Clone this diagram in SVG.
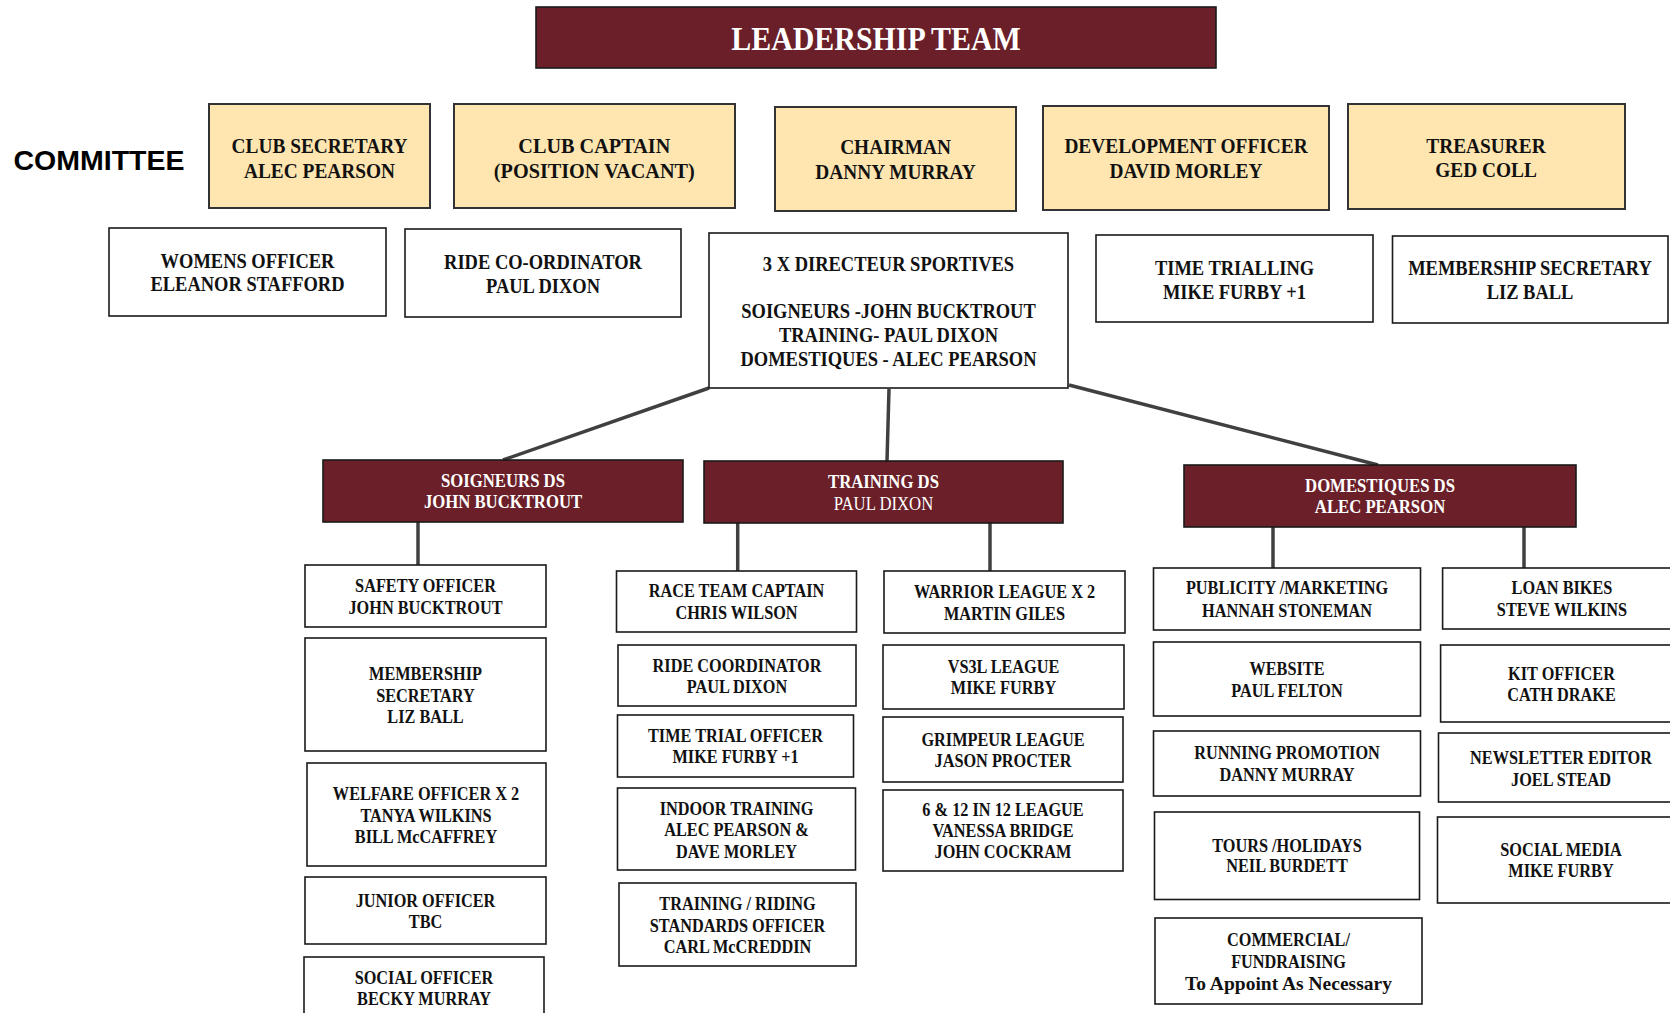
<svg xmlns="http://www.w3.org/2000/svg" width="1670" height="1013" viewBox="0 0 1670 1013">
<style>
.bg{fill:#fff}
.box{fill:#fff;stroke:#1a1a1a;stroke-width:1.6}
.com{fill:#FFE6B0;stroke:#333;stroke-width:2}
.ds{fill:#6A1F29;stroke:#1a1a1a;stroke-width:1.6}
.t{font-family:"Liberation Serif",serif;font-weight:bold;font-size:18.5px;text-anchor:middle;fill:#111}
.t2{font-size:21px}
.tc{font-size:22px}
.td{font-size:19px;fill:#fff}
.tt{font-size:34px;fill:#fff}
.n{font-weight:normal}
.conn{stroke:#404040;stroke-width:3.5;fill:none}
</style>
<rect class="bg" x="0" y="0" width="1670" height="1013"/>
<g id="connectors">
<line class="conn" x1="709" y1="388" x2="503" y2="460"/>
<line class="conn" x1="889" y1="389" x2="887" y2="461"/>
<line class="conn" x1="1069" y1="385" x2="1378" y2="465"/>
<line class="conn" x1="418" y1="522" x2="418" y2="565"/>
<line class="conn" x1="737.7" y1="523" x2="737.7" y2="571"/>
<line class="conn" x1="990" y1="523" x2="990" y2="571"/>
<line class="conn" x1="1273" y1="527" x2="1273" y2="568"/>
<line class="conn" x1="1524" y1="527" x2="1524" y2="568"/>
</g>
<g id="leadership">
<rect class="ds" x="536" y="7" width="680" height="61"/>
<text class="t tt" transform="translate(876 0) scale(0.88 1)"><tspan x="0" y="50">LEADERSHIP TEAM</tspan></text>
</g>
<g id="committee-label">
<text x="99" y="170" style="font-family:'Liberation Sans',sans-serif;font-weight:bold;font-size:28.5px;text-anchor:middle;fill:#000">COMMITTEE</text>
</g>
<g id="club-secretary">
<rect class="com" x="209" y="104" width="221" height="104"/>
<text class="t tc" transform="translate(319.5 0) scale(0.88 1)"><tspan x="0" y="152.7">CLUB SECRETARY</tspan><tspan x="0" y="177.7">ALEC PEARSON</tspan></text>
</g>
<g id="club-captain">
<rect class="com" x="454" y="104" width="281" height="104"/>
<text class="t tc" transform="translate(594.3 0) scale(0.92 1)"><tspan x="0" y="152.7">CLUB CAPTAIN</tspan><tspan x="0" y="177.7">(POSITION VACANT)</tspan></text>
</g>
<g id="chairman">
<rect class="com" x="775" y="107" width="241" height="104"/>
<text class="t tc" transform="translate(895.5 0) scale(0.88 1)"><tspan x="0" y="154">CHAIRMAN</tspan><tspan x="0" y="179">DANNY MURRAY</tspan></text>
</g>
<g id="development-officer">
<rect class="com" x="1043" y="106" width="286" height="104"/>
<text class="t tc" transform="translate(1186 0) scale(0.88 1)"><tspan x="0" y="153">DEVELOPMENT OFFICER</tspan><tspan x="0" y="178.5">DAVID MORLEY</tspan></text>
</g>
<g id="treasurer">
<rect class="com" x="1348" y="104" width="277" height="105"/>
<text class="t tc" transform="translate(1486 0) scale(0.88 1)"><tspan x="0" y="152.7">TREASURER</tspan><tspan x="0" y="177.5">GED COLL</tspan></text>
</g>
<g id="womens-officer">
<rect class="box" x="109" y="228" width="277" height="88"/>
<text class="t t2" transform="translate(247.5 0) scale(0.88 1)"><tspan x="0" y="268.3">WOMENS OFFICER</tspan><tspan x="0" y="291">ELEANOR STAFFORD</tspan></text>
</g>
<g id="ride-co-ordinator">
<rect class="box" x="405" y="229" width="276" height="88"/>
<text class="t t2" transform="translate(543 0) scale(0.88 1)"><tspan x="0" y="269.3">RIDE CO-ORDINATOR</tspan><tspan x="0" y="292.7">PAUL DIXON</tspan></text>
</g>
<g id="directeur-sportives">
<rect class="box" x="709" y="233" width="359" height="155"/>
<text class="t t2" transform="translate(888.5 0) scale(0.88 1)"><tspan x="0" y="271">3 X DIRECTEUR SPORTIVES</tspan><tspan x="0" y="318">SOIGNEURS -JOHN BUCKTROUT</tspan><tspan x="0" y="342">TRAINING- PAUL DIXON</tspan><tspan x="0" y="366">DOMESTIQUES - ALEC PEARSON</tspan></text>
</g>
<g id="time-trialling">
<rect class="box" x="1096" y="235" width="277" height="87"/>
<text class="t t2" transform="translate(1234.5 0) scale(0.88 1)"><tspan x="0" y="275">TIME TRIALLING</tspan><tspan x="0" y="299">MIKE FURBY +1</tspan></text>
</g>
<g id="membership-secretary-top">
<rect class="box" x="1392.5" y="236" width="275.5" height="87"/>
<text class="t t2" transform="translate(1530 0) scale(0.88 1)"><tspan x="0" y="275">MEMBERSHIP SECRETARY</tspan><tspan x="0" y="299">LIZ BALL</tspan></text>
</g>
<g id="soigneurs-ds">
<rect class="ds" x="323" y="460" width="360" height="62"/>
<text class="t td" transform="translate(503 0) scale(0.88 1)"><tspan x="0" y="486.7">SOIGNEURS DS</tspan><tspan x="0" y="508.3">JOHN BUCKTROUT</tspan></text>
</g>
<g id="training-ds">
<rect class="ds" x="704" y="461" width="359" height="62"/>
<text class="t td" transform="translate(883.5 0) scale(0.88 1)"><tspan x="0" y="488.3">TRAINING DS</tspan><tspan class="n" x="0" y="510">PAUL DIXON</tspan></text>
</g>
<g id="domestiques-ds">
<rect class="ds" x="1184" y="465" width="392" height="62"/>
<text class="t td" transform="translate(1380 0) scale(0.88 1)"><tspan x="0" y="491.7">DOMESTIQUES DS</tspan><tspan x="0" y="513.3">ALEC PEARSON</tspan></text>
</g>
<g id="safety-officer">
<rect class="box" x="305" y="565" width="241" height="62"/>
<text class="t" transform="translate(425.5 0) scale(0.88 1)"><tspan x="0" y="592.3">SAFETY OFFICER</tspan><tspan x="0" y="614">JOHN BUCKTROUT</tspan></text>
</g>
<g id="membership-secretary">
<rect class="box" x="305" y="638" width="241" height="113"/>
<text class="t" transform="translate(425.5 0) scale(0.88 1)"><tspan x="0" y="680">MEMBERSHIP</tspan><tspan x="0" y="701.7">SECRETARY</tspan><tspan x="0" y="722.7">LIZ BALL</tspan></text>
</g>
<g id="welfare-officer">
<rect class="box" x="307" y="763" width="239" height="103"/>
<text class="t" transform="translate(426 0) scale(0.88 1)"><tspan x="0" y="800">WELFARE OFFICER X 2</tspan><tspan x="0" y="821.7">TANYA WILKINS</tspan><tspan x="0" y="842.7">BILL McCAFFREY</tspan></text>
</g>
<g id="junior-officer">
<rect class="box" x="305" y="877" width="241" height="67"/>
<text class="t" transform="translate(425.5 0) scale(0.88 1)"><tspan x="0" y="906.7">JUNIOR OFFICER</tspan><tspan x="0" y="928.3">TBC</tspan></text>
</g>
<g id="social-officer">
<rect class="box" x="304" y="957" width="240" height="70"/>
<text class="t" transform="translate(424 0) scale(0.88 1)"><tspan x="0" y="984">SOCIAL OFFICER</tspan><tspan x="0" y="1005">BECKY MURRAY</tspan></text>
</g>
<g id="race-team-captain">
<rect class="box" x="616.5" y="571" width="240" height="61"/>
<text class="t" transform="translate(736.5 0) scale(0.88 1)"><tspan x="0" y="597.3">RACE TEAM CAPTAIN</tspan><tspan x="0" y="619">CHRIS WILSON</tspan></text>
</g>
<g id="ride-coordinator">
<rect class="box" x="618" y="645" width="238" height="61"/>
<text class="t" transform="translate(737 0) scale(0.88 1)"><tspan x="0" y="672.3">RIDE COORDINATOR</tspan><tspan x="0" y="693.3">PAUL DIXON</tspan></text>
</g>
<g id="time-trial-officer">
<rect class="box" x="617.5" y="715" width="236" height="62"/>
<text class="t" transform="translate(735.5 0) scale(0.88 1)"><tspan x="0" y="742.3">TIME TRIAL OFFICER</tspan><tspan x="0" y="763.3">MIKE FURBY +1</tspan></text>
</g>
<g id="indoor-training">
<rect class="box" x="617.5" y="788" width="238" height="82"/>
<text class="t" transform="translate(736.5 0) scale(0.88 1)"><tspan x="0" y="815">INDOOR TRAINING</tspan><tspan x="0" y="836">ALEC PEARSON &amp;</tspan><tspan x="0" y="857.7">DAVE MORLEY</tspan></text>
</g>
<g id="riding-standards">
<rect class="box" x="619" y="883" width="237" height="83"/>
<text class="t" transform="translate(737.5 0) scale(0.88 1)"><tspan x="0" y="910">TRAINING / RIDING</tspan><tspan x="0" y="931.7">STANDARDS OFFICER</tspan><tspan x="0" y="952.7">CARL McCREDDIN</tspan></text>
</g>
<g id="warrior-league">
<rect class="box" x="884" y="571" width="241" height="62"/>
<text class="t" transform="translate(1004.5 0) scale(0.88 1)"><tspan x="0" y="598.3">WARRIOR LEAGUE X 2</tspan><tspan x="0" y="620">MARTIN GILES</tspan></text>
</g>
<g id="vs3l-league">
<rect class="box" x="883" y="645" width="241" height="64"/>
<text class="t" transform="translate(1003.5 0) scale(0.88 1)"><tspan x="0" y="672.7">VS3L LEAGUE</tspan><tspan x="0" y="694">MIKE FURBY</tspan></text>
</g>
<g id="grimpeur-league">
<rect class="box" x="883" y="717" width="240" height="65"/>
<text class="t" transform="translate(1003 0) scale(0.88 1)"><tspan x="0" y="745.7">GRIMPEUR LEAGUE</tspan><tspan x="0" y="766.7">JASON PROCTER</tspan></text>
</g>
<g id="league-6-12">
<rect class="box" x="883" y="790" width="240" height="81"/>
<text class="t" transform="translate(1003 0) scale(0.88 1)"><tspan x="0" y="816">6 &amp; 12 IN 12 LEAGUE</tspan><tspan x="0" y="836.7">VANESSA BRIDGE</tspan><tspan x="0" y="858.3">JOHN COCKRAM</tspan></text>
</g>
<g id="publicity">
<rect class="box" x="1153.5" y="568" width="267" height="62"/>
<text class="t" transform="translate(1287 0) scale(0.88 1)"><tspan x="0" y="594.3">PUBLICITY /MARKETING</tspan><tspan x="0" y="616.7">HANNAH STONEMAN</tspan></text>
</g>
<g id="website">
<rect class="box" x="1153.5" y="642" width="267" height="74"/>
<text class="t" transform="translate(1287 0) scale(0.88 1)"><tspan x="0" y="675">WEBSITE</tspan><tspan x="0" y="696.7">PAUL FELTON</tspan></text>
</g>
<g id="running-promotion">
<rect class="box" x="1153.5" y="731" width="267" height="65"/>
<text class="t" transform="translate(1287 0) scale(0.88 1)"><tspan x="0" y="759">RUNNING PROMOTION</tspan><tspan x="0" y="780.7">DANNY MURRAY</tspan></text>
</g>
<g id="tours">
<rect class="box" x="1154.5" y="812" width="265" height="87.5"/>
<text class="t" transform="translate(1287 0) scale(0.88 1)"><tspan x="0" y="851.7">TOURS /HOLIDAYS</tspan><tspan x="0" y="872.3">NEIL BURDETT</tspan></text>
</g>
<g id="commercial">
<rect class="box" x="1155" y="918" width="267" height="86"/>
<text class="t" transform="translate(1288.5 0) scale(0.88 1)"><tspan x="0" y="945.7">COMMERCIAL/</tspan><tspan x="0" y="967.7">FUNDRAISING</tspan></text>
<text class="t" x="1288.5" y="990" style="font-size:19.5px">To Appoint As Necessary</text>
</g>
<g id="loan-bikes">
<rect class="box" x="1442.6" y="568" width="250" height="61"/>
<text class="t" transform="translate(1562 0) scale(0.88 1)"><tspan x="0" y="594.3">LOAN BIKES</tspan><tspan x="0" y="616">STEVE WILKINS</tspan></text>
</g>
<g id="kit-officer">
<rect class="box" x="1440.6" y="645" width="250" height="77"/>
<text class="t" transform="translate(1561.5 0) scale(0.88 1)"><tspan x="0" y="680">KIT OFFICER</tspan><tspan x="0" y="700.7">CATH DRAKE</tspan></text>
</g>
<g id="newsletter-editor">
<rect class="box" x="1438.5" y="733" width="250" height="69"/>
<text class="t" transform="translate(1561 0) scale(0.88 1)"><tspan x="0" y="764">NEWSLETTER EDITOR</tspan><tspan x="0" y="786">JOEL STEAD</tspan></text>
</g>
<g id="social-media">
<rect class="box" x="1437.5" y="817" width="250" height="86"/>
<text class="t" transform="translate(1561 0) scale(0.88 1)"><tspan x="0" y="855.7">SOCIAL MEDIA</tspan><tspan x="0" y="877.3">MIKE FURBY</tspan></text>
</g>
</svg>
